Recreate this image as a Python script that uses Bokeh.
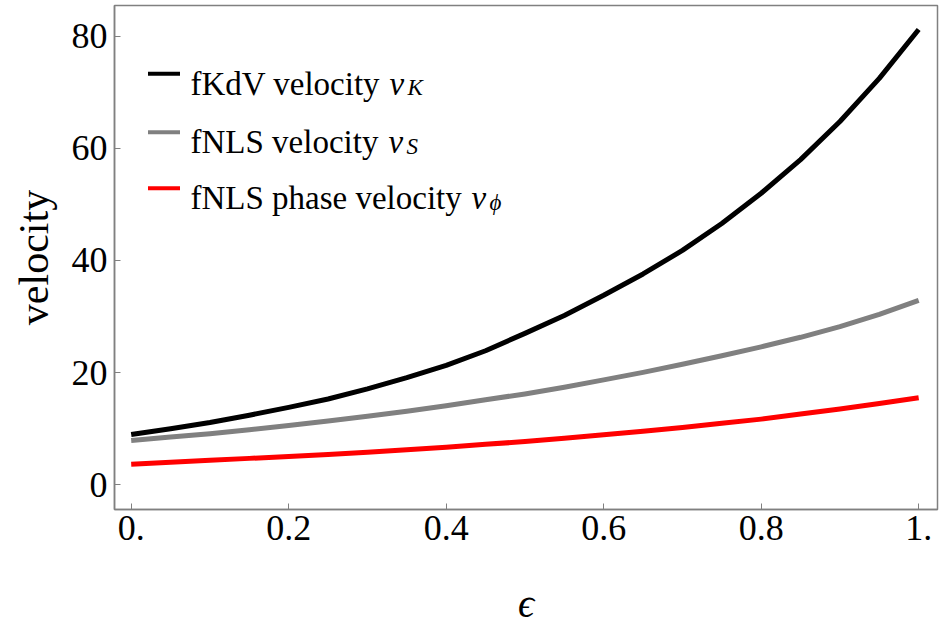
from bokeh.plotting import figure
from bokeh.models import Range1d, FixedTicker, Label, BoxAnnotation
from bokeh.embed import file_html
from bokeh.resources import INLINE

# ---- data ----
eps = [0.0, 0.05, 0.1, 0.15, 0.2, 0.25, 0.3, 0.35, 0.4, 0.45, 0.5,
       0.55, 0.6, 0.65, 0.7, 0.75, 0.8, 0.85, 0.9, 0.95, 1.0]
v_K = [8.95, 10.0, 11.1, 12.4, 13.8, 15.3, 17.1, 19.1, 21.3, 23.9, 27.0,
       30.2, 33.8, 37.6, 41.8, 46.6, 52.0, 58.0, 64.8, 72.5, 81.2]
v_S = [7.9, 8.5, 9.1, 9.8, 10.55, 11.35, 12.2, 13.1, 14.1, 15.15, 16.2,
       17.4, 18.7, 20.05, 21.5, 23.0, 24.6, 26.3, 28.2, 30.4, 32.9]
v_phi = [3.65, 4.0, 4.35, 4.7, 5.05, 5.4, 5.8, 6.25, 6.7, 7.2, 7.7,
         8.3, 8.9, 9.55, 10.2, 10.95, 11.7, 12.6, 13.5, 14.5, 15.5]

x_ticks = [0.0, 0.2, 0.4, 0.6, 0.8, 1.0]
x_tick_labels = ["0.", "0.2", "0.4", "0.6", "0.8", "1."]
y_ticks = [0, 20, 40, 60, 80]

series_names = ["fKdV velocity ", "fNLS velocity ", "fNLS phase velocity "]
series_sym = ["v", "v", "v"]
series_sub = ["K", "S", "\u03d5"]
series_colors = ["black", "#808080", "#ff0000"]

FONT = "Liberation Serif, serif"
FRAME = "#808080"

p = figure(width=939, height=628, output_backend="svg", toolbar_location=None,
           x_range=Range1d(-0.0212, 1.0239), y_range=Range1d(-4.42, 85.49),
           min_border_left=114, min_border_right=2, min_border_top=5,
           min_border_bottom=115)
p.background_fill_color = "white"
p.border_fill_color = "white"
p.outline_line_color = FRAME
p.outline_line_width = 1.5
p.xgrid.visible = False
p.ygrid.visible = False

for ys, c in zip([v_K, v_S, v_phi], series_colors):
    p.line(eps, ys, line_color=c, line_width=5, line_join="round")

for ax in (p.xaxis[0], p.yaxis[0]):
    ax.axis_line_color = FRAME
    ax.axis_line_width = 1.5
    ax.major_tick_line_color = FRAME
    ax.major_tick_line_width = 1
    ax.major_tick_in = 6
    ax.major_tick_out = 0
    ax.minor_tick_line_color = None
    ax.major_label_text_font = FONT
    ax.major_label_text_font_size = "36px"
    ax.major_label_text_color = "black"
    ax.axis_label_text_font = FONT
    ax.axis_label_text_font_style = "normal"
    ax.axis_label_text_color = "black"

p.xaxis.ticker = FixedTicker(ticks=x_ticks)
p.xaxis.major_label_overrides = {t: l for t, l in zip(x_ticks, x_tick_labels)}
p.xaxis.major_label_standoff = 6
p.xaxis.axis_label = "\u03f5"
p.xaxis.axis_label_text_font_size = "40px"
p.xaxis.axis_label_text_font_style = "italic"
p.xaxis.axis_label_standoff = 38

p.yaxis.ticker = FixedTicker(ticks=y_ticks)
p.yaxis.major_label_standoff = 7
p.yaxis.axis_label = "velocity"
p.yaxis.axis_label_text_font_size = "42px"
p.yaxis.axis_label_standoff = 12

# ---- legend (screen units relative to the frame) ----
sw_y = [435.7, 377.3, 321.3]
text_x = [76, 76, 76]
sym_x = [275.0, 274.0, 357.0]
sub_x = [s + 18 for s in sym_x]
for i in range(3):
    p.add_layout(BoxAnnotation(left=33.5, right=65.5, bottom=sw_y[i] - 2, top=sw_y[i] + 2,
                               left_units="screen", right_units="screen",
                               bottom_units="screen", top_units="screen",
                               fill_color=series_colors[i], fill_alpha=1, line_color=None))
    p.add_layout(Label(x=text_x[i], y=sw_y[i] - 10, x_units="screen", y_units="screen",
                       text=series_names[i], text_font=FONT, text_font_size="33px",
                       text_baseline="alphabetic", text_color="black"))
    p.add_layout(Label(x=sym_x[i], y=sw_y[i] - 10, x_units="screen", y_units="screen",
                       text=series_sym[i], text_font=FONT, text_font_size="33px",
                       text_font_style="italic",
                       text_baseline="alphabetic", text_color="black"))
    p.add_layout(Label(x=sub_x[i], y=sw_y[i] - 14, x_units="screen", y_units="screen",
                       text=series_sub[i], text_font=FONT, text_font_size="23px",
                       text_font_style="italic",
                       text_baseline="alphabetic", text_color="black"))

open("out.html", "w").write(file_html(p, INLINE))
